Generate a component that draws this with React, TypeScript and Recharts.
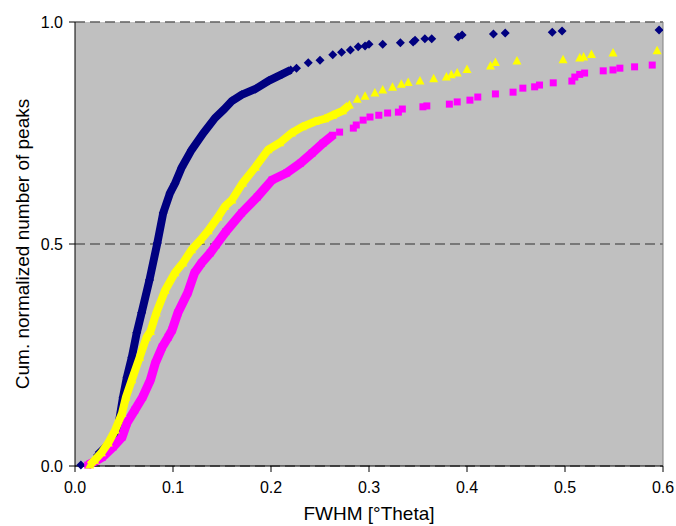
import {
  ScatterChart,
  Scatter,
  XAxis,
  YAxis,
  CartesianGrid,
  ReferenceLine,
  Label,
} from "recharts";

// [FWHM, cumulative fraction] pairs
const navyLow = [[0.006, 0.002]];
const navyBand = [
  [0.023, 0.025], [0.031, 0.042], [0.038, 0.059], [0.044, 0.088], [0.049, 0.155],
  [0.053, 0.2], [0.058, 0.245], [0.063, 0.3], [0.068, 0.345], [0.076, 0.419],
  [0.084, 0.502], [0.09, 0.57], [0.097, 0.615], [0.102, 0.636], [0.109, 0.673],
  [0.119, 0.712], [0.131, 0.75], [0.143, 0.784], [0.152, 0.803], [0.16, 0.822],
  [0.17, 0.836], [0.184, 0.849], [0.198, 0.868], [0.211, 0.882], [0.22, 0.892],
];
const navyTail = [
  [0.226, 0.896], [0.238, 0.908], [0.25, 0.914], [0.263, 0.926], [0.272, 0.932],
  [0.281, 0.937], [0.289, 0.944], [0.296, 0.946], [0.3, 0.95], [0.314, 0.95],
  [0.332, 0.953], [0.345, 0.955], [0.347, 0.959], [0.357, 0.962], [0.364, 0.962],
  [0.391, 0.966], [0.395, 0.971], [0.427, 0.973], [0.439, 0.975], [0.487, 0.977],
  [0.497, 0.98], [0.596, 0.982],
];

const yellowBand = [
  [0.015, 0.002], [0.02, 0.013], [0.027, 0.03], [0.034, 0.052], [0.041, 0.081],
  [0.048, 0.119], [0.052, 0.155], [0.058, 0.194], [0.066, 0.245], [0.073, 0.29],
  [0.077, 0.303], [0.083, 0.345], [0.092, 0.396], [0.102, 0.435], [0.11, 0.457],
  [0.119, 0.487], [0.128, 0.509], [0.136, 0.53], [0.146, 0.561], [0.153, 0.585],
  [0.16, 0.599], [0.171, 0.637], [0.184, 0.673], [0.197, 0.712], [0.209, 0.728],
  [0.221, 0.75], [0.232, 0.764], [0.245, 0.776], [0.255, 0.782], [0.263, 0.79],
  [0.273, 0.8], [0.28, 0.813],
];
const yellowTail = [
  [0.288, 0.826], [0.296, 0.833], [0.306, 0.84], [0.314, 0.847], [0.324, 0.853],
  [0.333, 0.86], [0.34, 0.864], [0.352, 0.867], [0.366, 0.872], [0.379, 0.876],
  [0.384, 0.881], [0.39, 0.885], [0.4, 0.893], [0.424, 0.901], [0.429, 0.909],
  [0.451, 0.912], [0.498, 0.915], [0.515, 0.919], [0.519, 0.921], [0.527, 0.927],
  [0.549, 0.93], [0.594, 0.935],
];

const magentaBand = [
  [0.013, 0.002], [0.02, 0.01], [0.028, 0.02], [0.039, 0.043], [0.048, 0.065],
  [0.053, 0.097], [0.061, 0.126], [0.069, 0.155], [0.077, 0.194], [0.082, 0.232],
  [0.089, 0.268], [0.095, 0.29], [0.099, 0.306], [0.105, 0.345], [0.115, 0.39],
  [0.122, 0.435], [0.129, 0.457], [0.138, 0.48], [0.144, 0.498], [0.154, 0.528],
  [0.17, 0.57], [0.186, 0.606], [0.201, 0.644], [0.216, 0.66], [0.23, 0.682],
  [0.242, 0.705], [0.253, 0.727], [0.263, 0.745],
];
const magentaTail = [
  [0.27, 0.752], [0.284, 0.761], [0.287, 0.768], [0.294, 0.779], [0.301, 0.786],
  [0.31, 0.79], [0.319, 0.795], [0.33, 0.797], [0.334, 0.804], [0.355, 0.809],
  [0.359, 0.811], [0.382, 0.815], [0.39, 0.82], [0.403, 0.824], [0.411, 0.831],
  [0.429, 0.838], [0.447, 0.842], [0.457, 0.851], [0.469, 0.854], [0.474, 0.858],
  [0.488, 0.863], [0.507, 0.867], [0.51, 0.876], [0.515, 0.882], [0.52, 0.885],
  [0.539, 0.89], [0.549, 0.892], [0.556, 0.896], [0.571, 0.899], [0.589, 0.903],
];

const xTicks = [0, 0.1, 0.2, 0.3, 0.4, 0.5, 0.6];
const yTicks = [0, 0.5, 1];

const NAVY = "#000080";
const YELLOW = "#FFFF00";
const MAGENTA = "#FF00FF";
const FONT = "'Liberation Sans', Arial, sans-serif";

const pts = (arr: number[][]) => arr.map(([x, y]) => ({ x, y }));

const Diamond = (p: any) => (
  <polygon
    points={`${p.cx},${p.cy - 4.5} ${p.cx + 4.5},${p.cy} ${p.cx},${p.cy + 4.5} ${p.cx - 4.5},${p.cy}`}
    fill={NAVY}
  />
);
const Triangle = (p: any) => (
  <polygon
    points={`${p.cx},${p.cy - 5} ${p.cx + 4.5},${p.cy + 3.5} ${p.cx - 4.5},${p.cy + 3.5}`}
    fill={YELLOW}
  />
);
const Square = (p: any) => (
  <rect x={p.cx - 3.5} y={p.cy - 3.5} width={7} height={7} fill={MAGENTA} />
);

const tickStyle = { fontSize: 16, fill: "#000", fontFamily: FONT };

const App = () => {
  return (
    <div style={{ position: "absolute", left: 0, top: 0, fontFamily: FONT }}>
      <ScatterChart
        width={676}
        height={526}
        margin={{ top: 22, right: 13, bottom: 0, left: 0 }}
      >
        <CartesianGrid
          vertical={false}
          fill="#C0C0C0"
          stroke="#606060"
          strokeWidth={1.5}
          strokeDasharray="10 5"
        />
        <ReferenceLine x={0.6} stroke="#808080" />
        <XAxis
          type="number"
          dataKey="x"
          domain={[0, 0.6]}
          ticks={xTicks}
          tickFormatter={(v: number) => v.toFixed(1)}
          height={60}
          tickSize={6}
          tickMargin={10}
          tick={tickStyle}
          stroke="#000"
          allowDataOverflow
        >
          <Label
            content={({ viewBox }: any) => (
              <text
                x={viewBox.x + viewBox.width / 2}
                y={520}
                textAnchor="middle"
                fontSize={19}
                fontFamily={FONT}
                fill="#000"
              >
                FWHM [°Theta]
              </text>
            )}
          />
        </XAxis>
        <YAxis
          type="number"
          dataKey="y"
          domain={[0, 1]}
          ticks={yTicks}
          tickFormatter={(v: number) => v.toFixed(1)}
          width={75}
          tickSize={6}
          tickMargin={6}
          tick={tickStyle}
          stroke="#000"
        >
          <Label
            content={({ viewBox }: any) => {
              const cx = 29;
              const cy = viewBox.y + viewBox.height / 2;
              return (
                <text
                  x={cx}
                  y={cy}
                  transform={`rotate(-90, ${cx}, ${cy})`}
                  textAnchor="middle"
                  fontSize={19}
                  fontFamily={FONT}
                  fill="#000"
                >
                  Cum. normalized number of peaks
                </text>
              );
            }}
          />
        </YAxis>
        <Scatter
          data={pts(navyBand)}
          shape={Diamond}
          line={{ stroke: NAVY, strokeWidth: 8 }}
          isAnimationActive={false}
        />
        <Scatter data={pts(navyLow)} shape={Diamond} isAnimationActive={false} />
        <Scatter data={pts(navyTail)} shape={Diamond} isAnimationActive={false} />
        <Scatter
          data={pts(magentaBand)}
          shape={Square}
          line={{ stroke: MAGENTA, strokeWidth: 9 }}
          isAnimationActive={false}
        />
        <Scatter data={pts(magentaTail)} shape={Square} isAnimationActive={false} />
        <Scatter
          data={pts(yellowBand)}
          shape={Triangle}
          line={{ stroke: YELLOW, strokeWidth: 8 }}
          isAnimationActive={false}
        />
        <Scatter data={pts(yellowTail)} shape={Triangle} isAnimationActive={false} />
      </ScatterChart>
    </div>
  );
};

export default App;
